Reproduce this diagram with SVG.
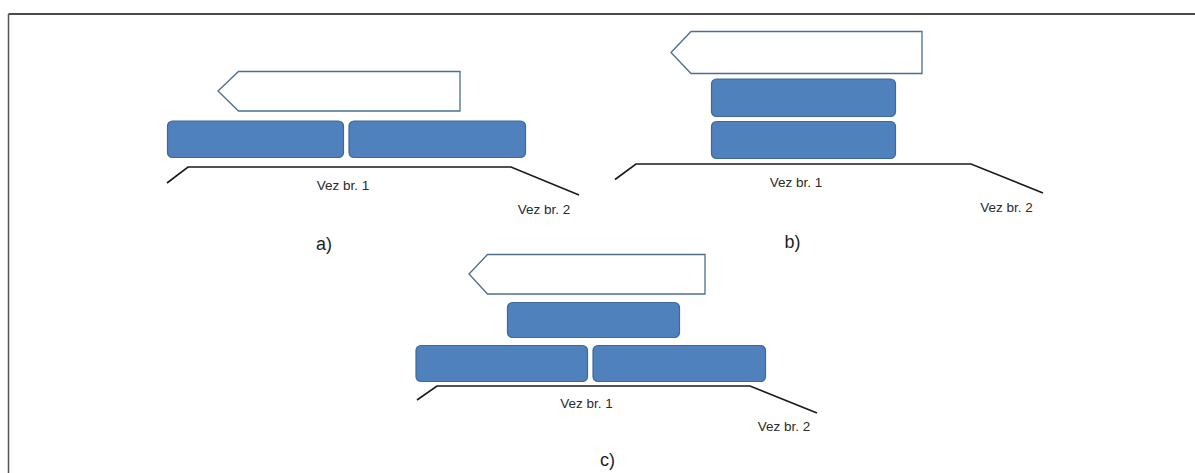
<svg xmlns="http://www.w3.org/2000/svg" width="1195" height="473" viewBox="0 0 1195 473">
<style>
.car{fill:#4f81bd;stroke:#3d6897;stroke-width:1.2}
.arr{fill:#ffffff;stroke:#4d6d8f;stroke-width:1.3}
.trk{fill:none;stroke:#1a1a1a;stroke-width:1.6}
.lbl{font-family:"Liberation Sans",Arial,sans-serif;font-size:13.5px;fill:#2a2a2a}
.cap{font-family:"Liberation Sans",Arial,sans-serif;font-size:18px;fill:#1e1e1e}
</style>
<rect x="0" y="0" width="1195" height="473" fill="#ffffff"/>
<g id="frame">
<line x1="8.5" y1="14" x2="1195" y2="14" stroke="#111111" stroke-width="1.3"/>
<line x1="8.5" y1="14" x2="8.5" y2="473" stroke="#555555" stroke-width="1.5"/>
</g>
<g id="connectors">
<polyline class="trk" points="167,183 188,167 511,167 579,195"/>
<polyline class="trk" points="615,179.5 636,164 971,164 1043,193"/>
<polyline class="trk" points="417,400 437,386 750,386 817,413"/>
</g>
<g id="panel-a">
<polygon id="a-arrow" class="arr" points="218,91 238.5,71.5 460,71.5 460,111 238.5,111"/>
<rect id="a-car1" class="car" x="167.5" y="121" width="176" height="36.5" rx="5"/>
<rect id="a-car2" class="car" x="349" y="121" width="176.5" height="36.5" rx="5"/>
<text class="lbl" x="343" y="189.5" text-anchor="middle">Vez br. 1</text>
<text class="lbl" x="544" y="213.5" text-anchor="middle">Vez br. 2</text>
<text class="cap" x="324" y="249.5" text-anchor="middle">a)</text>
</g>
<g id="panel-b">
<polygon id="b-arrow" class="arr" points="671,52.5 691,31.5 922,31.5 922,73.5 691,73.5"/>
<rect id="b-car1" class="car" x="711.5" y="79" width="184" height="37.5" rx="5"/>
<rect id="b-car2" class="car" x="711.5" y="121.5" width="184" height="37" rx="5"/>
<text class="lbl" x="796" y="187" text-anchor="middle">Vez br. 1</text>
<text class="lbl" x="1006.5" y="212" text-anchor="middle">Vez br. 2</text>
<text class="cap" x="792.5" y="247.5" text-anchor="middle">b)</text>
</g>
<g id="panel-c">
<polygon id="c-arrow" class="arr" points="469,274 487.5,254.5 705,254.5 705,294 487.5,294"/>
<rect id="c-car-top" class="car" x="507.5" y="302.5" width="172" height="35" rx="5"/>
<rect id="c-car1" class="car" x="416" y="345.5" width="171.5" height="36" rx="5"/>
<rect id="c-car2" class="car" x="593" y="345.5" width="172.5" height="36" rx="5"/>
<text class="lbl" x="586.5" y="407.5" text-anchor="middle">Vez br. 1</text>
<text class="lbl" x="784" y="431" text-anchor="middle">Vez br. 2</text>
<text class="cap" x="607.5" y="465.5" text-anchor="middle">c)</text>
</g>
</svg>
